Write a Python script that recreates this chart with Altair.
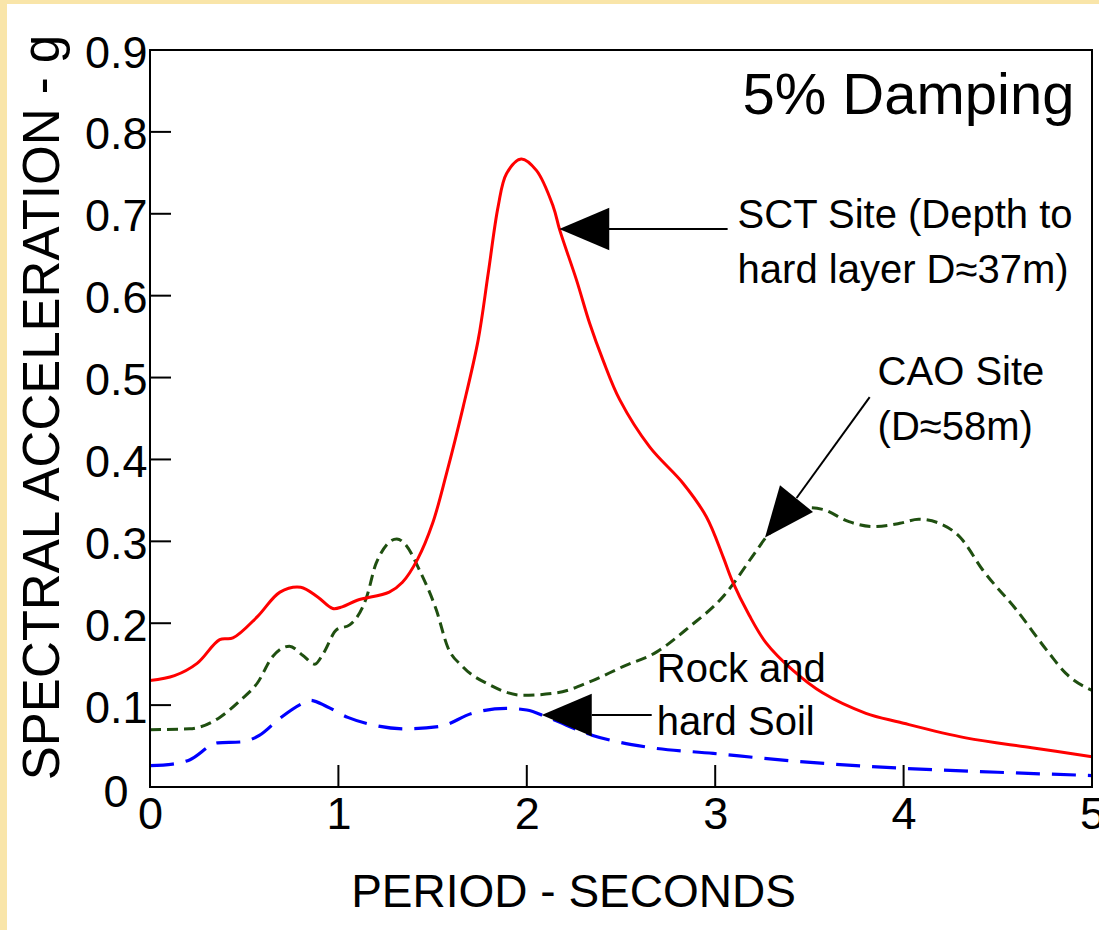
import altair as alt
import pandas as pd

# --- response spectra (period in s, spectral acceleration in g) ---
sct_period = [0, 0.13, 0.25, 0.37, 0.44, 0.57, 0.69, 0.80, 0.89, 0.97,
              1.02, 1.10, 1.27, 1.34, 1.42, 1.50, 1.574, 1.662, 1.742, 1.795,
              1.848, 1.892, 1.97, 2.051, 2.14, 2.175, 2.264, 2.334, 2.405, 2.493,
              2.653, 2.829, 2.953, 3.042, 3.09, 3.18, 3.27, 3.41, 3.57, 3.80,
              3.98, 4.33, 4.68, 5.0]
sct_sa = [0.13, 0.136, 0.151, 0.18, 0.182, 0.208, 0.238, 0.244, 0.232, 0.218,
          0.22, 0.228, 0.238, 0.25, 0.278, 0.322, 0.383, 0.464, 0.546, 0.627,
          0.709, 0.749, 0.767, 0.753, 0.709, 0.680, 0.619, 0.566, 0.521, 0.473,
          0.415, 0.371, 0.33, 0.281, 0.252, 0.210, 0.176, 0.143, 0.115, 0.09,
          0.079, 0.06, 0.048, 0.037]

cao_period = [0, 0.21, 0.37, 0.48, 0.57, 0.65, 0.74, 0.81, 0.875, 0.92,
              0.99, 1.06, 1.15, 1.20, 1.31, 1.36, 1.43, 1.52, 1.58, 1.66,
              1.80, 1.98, 2.16, 2.33, 2.51, 2.69, 2.86, 3.04, 3.22, 3.27,
              3.40, 3.50, 3.57, 3.71, 3.84, 3.98, 4.08, 4.19, 4.30, 4.42,
              4.60, 4.77, 4.86, 5.0]
cao_sa = [0.07, 0.071, 0.085, 0.106, 0.127, 0.159, 0.172, 0.161, 0.15, 0.163,
          0.192, 0.198, 0.232, 0.273, 0.303, 0.295, 0.265, 0.216, 0.171, 0.147,
          0.125, 0.112, 0.115, 0.128, 0.147, 0.165, 0.195, 0.232, 0.289, 0.305,
          0.328, 0.341, 0.339, 0.324, 0.318, 0.322, 0.327, 0.322, 0.305, 0.265,
          0.216, 0.164, 0.139, 0.118]

rock_period = [0, 0.12, 0.21, 0.36, 0.48, 0.58, 0.69, 0.80, 0.85, 0.94,
               1.05, 1.18, 1.36, 1.54, 1.71, 1.89, 2.00, 2.11, 2.35, 2.63,
               2.99, 3.45, 3.98, 4.5, 5.0]
rock_sa = [0.026, 0.028, 0.033, 0.054, 0.055, 0.063, 0.084, 0.101, 0.106, 0.098,
           0.085, 0.076, 0.071, 0.074, 0.09, 0.096, 0.094, 0.085, 0.063, 0.049,
           0.041, 0.031, 0.023, 0.018, 0.014]

# --- axis ticks ---
x_ticks = [0, 1, 2, 3, 4, 5]
y_ticks = [0, 0.1, 0.2, 0.3, 0.4, 0.5, 0.6, 0.7, 0.8, 0.9]
x_inner_ticks = [1, 2, 3, 4]
y_inner_ticks = [0.1, 0.2, 0.3, 0.4, 0.5, 0.6, 0.7, 0.8]

# --- annotations ---
label_text = ["SCT Site (Depth to", "hard layer D≈37m)", "CAO Site", "(D≈58m)",
              "Rock and", "hard Soil"]
label_x = [3.119, 3.119, 3.862, 3.862, 2.690, 2.690]
label_y = [0.683, 0.616, 0.4915, 0.4243, 0.1288, 0.0629]

arrow_x = [2.435, 2.345, 3.432]
arrow_y = [0.6813, 0.0879, 0.3529]
arrow_x2 = [3.066, 2.663, 3.820]
arrow_y2 = [0.6813, 0.0879, 0.4762]
head_x = [2.305, 2.212, 3.348]
head_y = [0.6813, 0.0879, 0.3285]
head_angle = [0, 0, 309]

FONT = "Liberation Sans"
W, H = 942, 737

x_scale = alt.Scale(domain=[0, 5], nice=False, zero=False)
y_scale = alt.Scale(domain=[0, 0.9], nice=False, zero=False)

x_axis = alt.Axis(
    values=x_ticks, format="d", domain=False, ticks=False, grid=False,
    labelFont=FONT, labelFontSize=45, labelColor="black", labelPadding=5,
    labelFlush=False, labelOverlap=False,
    title="PERIOD - SECONDS", titleFont=FONT, titleFontSize=46,
    titleFontWeight="normal", titleColor="black",
    titleX=423, titleY=119, titleAlign="center", titleBaseline="alphabetic",
    titleAnchor="start",
)
y_axis = alt.Axis(
    values=y_ticks, format=".1~f", domain=False, ticks=False, grid=False,
    labelFont=FONT, labelFontSize=45, labelColor="black",
    labelPadding={"condition": {"test": "datum.value === 0", "value": 22}, "value": 3},
    labelOffset={"condition": {"test": "datum.value === 0", "value": 5}, "value": 3},
    labelFlush=False, labelOverlap=False,
    title="SPECTRAL ACCELERATION - g", titleFont=FONT, titleFontSize=51,
    titleFontWeight="normal", titleColor="black", titleAngle=270,
    titleX=-92, titleY=357, titleAlign="center", titleBaseline="alphabetic",
    titleAnchor="start",
)


def X(field):
    return alt.X(field, type="quantitative", scale=x_scale, axis=x_axis)


def Y(field):
    return alt.Y(field, type="quantitative", scale=y_scale, axis=y_axis)


one = pd.DataFrame({"k": [0]})

# pale border strips of the page
strip_left = alt.Chart(one).mark_rect(color="#F9E5A9").encode(
    x=alt.value(-150), x2=alt.value(-143), y=alt.value(-50), y2=alt.value(H + 143))
strip_top = alt.Chart(one).mark_rect(color="#F9E5A9").encode(
    x=alt.value(-150), x2=alt.value(W + 7), y=alt.value(-50), y2=alt.value(-46))

# inward tick marks
xt = alt.Chart(pd.DataFrame({"t": x_inner_ticks})).mark_rule(
    color="black", strokeWidth=2).encode(x=X("t"), y=alt.value(H), y2=alt.value(H - 22))
yt = alt.Chart(pd.DataFrame({"t": y_inner_ticks})).mark_rule(
    color="black", strokeWidth=2).encode(y=Y("t"), x=alt.value(0), x2=alt.value(21))

sct = pd.DataFrame({"period": sct_period, "sa": sct_sa})
cao = pd.DataFrame({"period": cao_period, "sa": cao_sa})
rock = pd.DataFrame({"period": rock_period, "sa": rock_sa})

line_sct = alt.Chart(sct).mark_line(
    color="#FF0000", strokeWidth=3, interpolate="catmull-rom").encode(x=X("period"), y=Y("sa"))
line_cao = alt.Chart(cao).mark_line(
    color="#1F4F10", strokeWidth=3, strokeDash=[11, 6], interpolate="monotone").encode(
    x=X("period"), y=Y("sa"))
line_rock = alt.Chart(rock).mark_line(
    color="#0000FF", strokeWidth=3.2, strokeDash=[24, 12], interpolate="monotone").encode(
    x=X("period"), y=Y("sa"))

arrows = pd.DataFrame({"x": arrow_x, "y": arrow_y, "x2": arrow_x2, "y2": arrow_y2})
shafts = alt.Chart(arrows).mark_rule(color="black", strokeWidth=2).encode(
    x=X("x"), y=Y("y"), x2=alt.X2("x2"), y2=alt.Y2("y2"))

heads_df = pd.DataFrame({"x": head_x, "y": head_y, "angle": head_angle})
heads = alt.Chart(heads_df).mark_point(
    shape="M -1 0 L 1 -0.85 L 1 0.85 Z", filled=True, color="black", opacity=1,
    size=2500, strokeWidth=0).encode(
    x=X("x"), y=Y("y"), angle=alt.Angle("angle", scale=None))

labels_df = pd.DataFrame({"text": label_text, "x": label_x, "y": label_y})
labels = alt.Chart(labels_df).mark_text(
    font=FONT, fontSize=40, align="left", baseline="alphabetic", color="black").encode(
    x=X("x"), y=Y("y"), text="text")

damping = alt.Chart(pd.DataFrame({"text": ["5% Damping"], "x": [4.907], "y": [0.8217]})).mark_text(
    font=FONT, fontSize=58, align="right", baseline="alphabetic", color="black").encode(
    x=X("x"), y=Y("y"), text="text")

frame = alt.Chart(one).mark_rect(
    fillOpacity=0, stroke="black", strokeWidth=2).encode(
    x=alt.value(0), x2=alt.value(W), y=alt.value(0), y2=alt.value(H))

chart = alt.layer(
    strip_left, strip_top, xt, yt, line_rock, line_cao, line_sct,
    shafts, heads, labels, damping, frame,
).properties(
    width=W, height=H,
    padding={"left": 150, "top": 50, "right": 7, "bottom": 143},
    autosize=alt.AutoSizeParams(type="none"),
    background="white",
).configure_view(stroke=None)

chart.save("out.html", embed_options={"renderer": "svg", "actions": False})
